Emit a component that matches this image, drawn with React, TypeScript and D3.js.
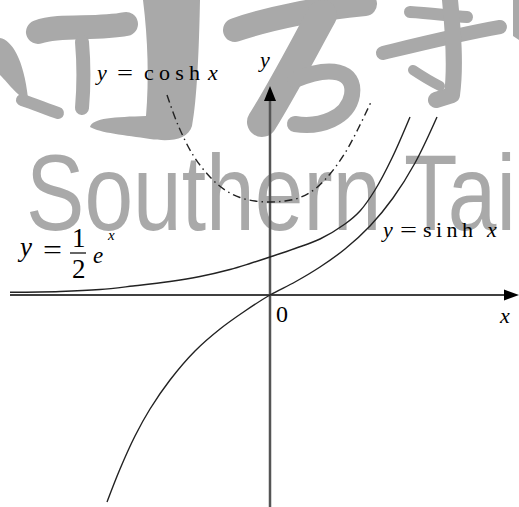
import React from 'react';
import * as d3 from 'd3';

const W = 519;
const H = 507;

// Sampled points of each curve (x, y in plot units)
const sinhX = [-3.26, -3.0, -2.7, -2.4, -2.0, -1.5, -1.0, -0.5, 0, 0.5, 1.0, 1.5, 2.0, 2.46, 2.9, 3.34];
const sinhY = [-4.14, -3.48, -2.82, -2.28, -1.7, -1.12, -0.68, -0.32, 0, 0.26, 0.56, 0.92, 1.38, 1.94, 2.64, 3.56];

const halfExpX = [-5.2, -4.2, -3.4, -2.74, -2.0, -1.4, -0.8, -0.4, 0, 0.5, 1.0, 1.5, 1.8, 2.1, 2.44, 2.8];
const halfExpY = [0.054, 0.07, 0.11, 0.18, 0.27, 0.37, 0.51, 0.63, 0.76, 0.93, 1.12, 1.42, 1.68, 2.1, 2.74, 3.56];

const coshX = [-2.06, -1.84, -1.54, -1.2, -0.9, -0.6, -0.3, 0, 0.3, 0.6, 0.9, 1.2, 1.5, 1.76, 2.02];
const coshY = [4.0, 3.4, 2.8, 2.36, 2.1, 1.95, 1.88, 1.86, 1.88, 1.95, 2.12, 2.42, 2.84, 3.32, 3.86];

// Axis extents (plot units)
const xAxisFrom = -5.2;
const xAxisTo = 4.98;
const yAxisFrom = -4.24;
const yAxisTo = 4.18;

// Background brush-stroke watermark
const brushFills = [
  'M0,38 C12,40 24,60 28,98 C20,100 10,85 0,75 Z',
  'M143,0 L200,0 C199,50 197,100 192,126 C188,140 170,142 150,139 C125,135 100,133 90,127 C92,118 115,117 146,116 C149,80 148,40 143,0 Z',
  'M513,0 L519,0 L519,40 L513,36 Z',
];
const brushStrokes = [
  { d: 'M38,32 C60,24 95,30 126,24', w: 24 },
  { d: 'M82,42 C84,65 84,85 82,108', w: 14 },
  { d: 'M22,100 C35,104 48,110 58,113', w: 12 },
  { d: 'M235,30 C270,18 320,8 365,4', w: 24 },
  { d: 'M322,15 C300,55 282,90 262,122', w: 30 },
  { d: 'M295,80 C330,65 356,70 352,95 C348,118 320,128 295,124', w: 16 },
  { d: 'M383,53 C420,44 460,34 500,27', w: 14 },
  { d: 'M410,12 C430,13 450,16 467,17', w: 12 },
  { d: 'M450,0 C453,30 456,65 452,95 L436,100', w: 16 },
  { d: 'M413,70 C422,76 432,82 440,86', w: 10 },
];

const serif = "'Liberation Serif', 'Times New Roman', serif";
const wide = 'spacingAndGlyphs';

export default function App() {
  const x = d3.scaleLinear().domain([-5.4, 4.98]).range([0, W]);
  const y = d3.scaleLinear().domain([5.9, -4.24]).range([0, H]);

  const line = d3
    .line<[number, number]>()
    .x((d) => x(d[0]))
    .y((d) => y(d[1]))
    .curve(d3.curveCatmullRom.alpha(0.5));

  const zip = (xs: number[], ys: number[]) => xs.map((v, i) => [v, ys[i]] as [number, number]);

  const x0 = x(0);
  const y0 = y(0);
  const curveColor = '#222';

  return (
    <svg
      width={W}
      height={H}
      viewBox={`0 0 ${W} ${H}`}
      style={{ position: 'absolute', left: 0, top: 0, display: 'block', background: '#fff' }}
    >
      {/* watermark */}
      <g fill="#a9a9a9" stroke="none">
        {brushFills.map((d, i) => (
          <path key={'f' + i} d={d} />
        ))}
      </g>
      <g fill="none" stroke="#a9a9a9" strokeLinecap="round" strokeLinejoin="round">
        {brushStrokes.map((s, i) => (
          <path key={'s' + i} d={s.d} strokeWidth={s.w} />
        ))}
      </g>
      <text
        x={26}
        y={230}
        fontFamily="'Liberation Sans', Arial, sans-serif"
        fontSize={108}
        fill="#a9a9a9"
        textLength={490}
        lengthAdjust={wide}
      >
        Southern Tai
      </text>

      {/* axes */}
      <line x1={x(xAxisFrom)} y1={y0} x2={x(xAxisTo) - 14} y2={y0} stroke="#000" strokeWidth={1.5} />
      <path
        d={`M${x(xAxisTo)},${y0} L${x(xAxisTo) - 15},${y0 - 5.5} L${x(xAxisTo) - 15},${y0 + 5.5} Z`}
        fill="#000"
      />
      <line x1={x0} y1={y(yAxisFrom)} x2={x0} y2={y(yAxisTo) + 14} stroke="#555" strokeWidth={2.5} />
      <path
        d={`M${x0},${y(yAxisTo)} L${x0 - 6},${y(yAxisTo) + 15} L${x0 + 6},${y(yAxisTo) + 15} Z`}
        fill="#000"
      />

      {/* curves */}
      <path d={line(zip(halfExpX, halfExpY)) || ''} fill="none" stroke={curveColor} strokeWidth={1.4} />
      <path d={line(zip(sinhX, sinhY)) || ''} fill="none" stroke={curveColor} strokeWidth={1.4} />
      <path
        d={line(zip(coshX, coshY)) || ''}
        fill="none"
        stroke={curveColor}
        strokeWidth={1.4}
        strokeDasharray="8 4 1.5 4"
      />

      {/* labels */}
      <g fontFamily={serif} fill="#000">
        <text y={80} fontSize={22}>
          <tspan x={97} fontStyle="italic">y</tspan>
          <tspan x={117} textLength={16} lengthAdjust={wide}>=</tspan>
          <tspan x={144} textLength={56} lengthAdjust="spacing">cosh</tspan>
          <tspan x={208} fontStyle="italic">x</tspan>
        </text>

        <text y={237} fontSize={22}>
          <tspan x={383} fontStyle="italic">y</tspan>
          <tspan x={400} textLength={17} lengthAdjust={wide}>=</tspan>
          <tspan x={423} textLength={50} lengthAdjust="spacing">sinh</tspan>
          <tspan x={487} fontStyle="italic">x</tspan>
        </text>

        <line x1={70} y1={253} x2={86} y2={253} stroke="#000" strokeWidth={1.2} />
        <text fontSize={27}>
          <tspan x={20} y={256} fontStyle="italic">y</tspan>
          <tspan x={43} y={259} textLength={19} lengthAdjust={wide}>=</tspan>
          <tspan x={72} y={247}>1</tspan>
          <tspan x={72} y={278}>2</tspan>
          <tspan x={93} y={263} fontSize={23} fontStyle="italic">e</tspan>
          <tspan x={108} y={240} fontSize={15} fontStyle="italic">x</tspan>
        </text>

        <text x={260} y={67} fontSize={22} fontStyle="italic">y</text>
        <text x={500} y={323} fontSize={22} fontStyle="italic">x</text>
        <text x={276} y={322} fontSize={24}>0</text>
      </g>
    </svg>
  );
}
